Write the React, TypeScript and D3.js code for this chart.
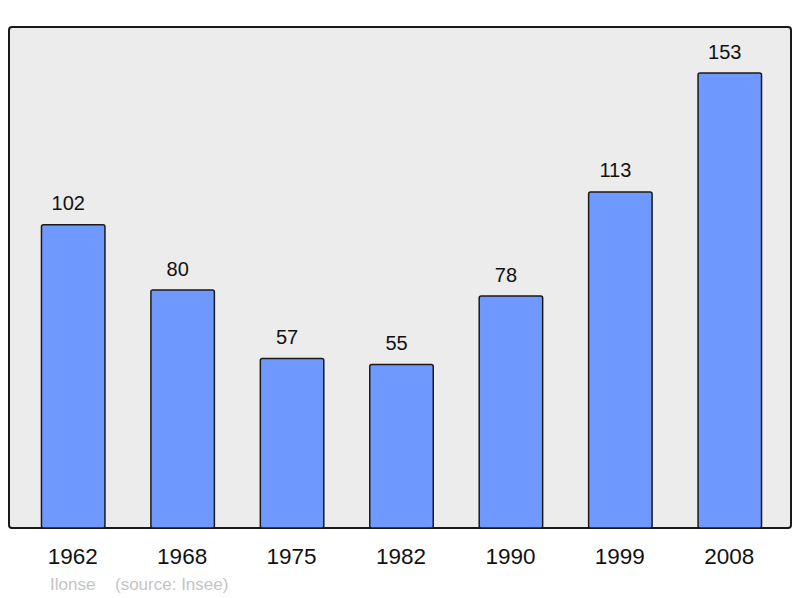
import React from "react";
import * as d3 from "d3";

const years = ["1962", "1968", "1975", "1982", "1990", "1999", "2008"];
const population = [102, 80, 57, 55, 78, 113, 153];
const footerName = "Ilonse";
const footerSource = "(source: Insee)";

export default function App() {
  const W = 800;
  const H = 598;
  const frame = { x: 9, y: 27, w: 782, h: 501 };
  const x = d3
    .scaleBand<string>()
    .domain(years)
    .range([18.5, 784.5])
    .paddingInner(0.42)
    .paddingOuter(0.21);
  const y = d3.scaleLinear().domain([0, 153]).range([528, 73]);
  const font = "'Liberation Sans', Arial, sans-serif";

  return (
    <svg
      width={W}
      height={H}
      style={{ position: "absolute", left: 0, top: 0, background: "#ffffff" }}
      fontFamily={font}
    >
      <rect
        x={frame.x}
        y={frame.y}
        width={frame.w}
        height={frame.h}
        rx={3}
        ry={3}
        fill="#ececec"
        stroke="#1a1a1a"
        strokeWidth={2}
      />
      {years.map((yr, i) => {
        const bx = x(yr)!;
        const bw = x.bandwidth();
        const v = population[i];
        return (
          <g key={yr}>
            <rect
              x={bx}
              y={y(v)}
              width={bw}
              height={y(0) - y(v)}
              rx={2}
              ry={2}
              fill="#7099ff"
              stroke="#1a1a1a"
              strokeWidth={1.5}
            />
            <text
              x={bx + bw / 2 - 5}
              y={y(v) - 14.5}
              textAnchor="middle"
              fontSize={20}
              fill="#111"
            >
              {v}
            </text>
            <text
              x={bx + bw / 2 - 0.5}
              y={564}
              textAnchor="middle"
              fontSize={22.5}
              fill="#111"
            >
              {yr}
            </text>
          </g>
        );
      })}
      <text x={50} y={590} fontSize={17} fill="#c4c4c4">
        {footerName}
      </text>
      <text x={115} y={590} fontSize={17} fill="#c4c4c4">
        {footerSource}
      </text>
    </svg>
  );
}
